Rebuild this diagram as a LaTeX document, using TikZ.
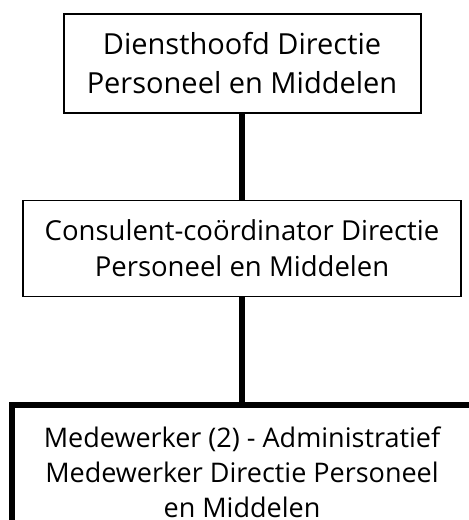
\documentclass[tikz,border=0pt]{standalone}
\usepackage{fontspec}
\setmainfont{Open Sans}
\usetikzlibrary{positioning}

\begin{document}
\begin{tikzpicture}[x=1pt,y=-1pt,
	box/.style={draw,align=center,inner sep=0pt,fill=white},
	link/.style={line width=6pt}]
	\useasboundingbox (0,0) rectangle (469,520);
	\clip (0,0) rectangle (469,520);
	
	\node[box,line width=2pt,minimum width=357pt,minimum height=99pt,font=\fontsize{29}{39}\selectfont] (hoofd) at (242,63.5) {Diensthoofd Directie\\Personeel en Middelen};
	\node[box,line width=1.3pt,minimum width=438pt,minimum height=96pt,font=\fontsize{27.5}{36}\selectfont,below=86pt of hoofd] (coord) {Consulent-coördinator Directie\\Personeel en Middelen};
	\node[box,line width=6pt,minimum width=460pt,minimum height=134pt,font=\fontsize{27}{35}\selectfont,below=105pt of coord] (mdw) {Medewerker (2) - Administratief\\Medewerker Directie Personeel\\en Middelen};
	
	\draw[link] (hoofd) -- (coord);
	\draw[link] (coord) -- (mdw);
\end{tikzpicture}
\end{document}
